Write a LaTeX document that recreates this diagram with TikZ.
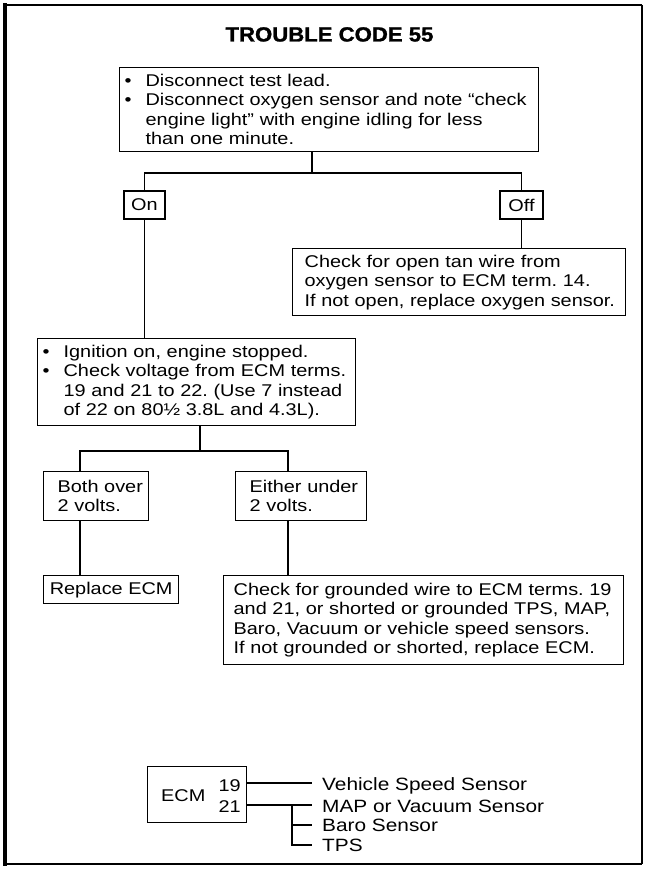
\documentclass[tikz,border=0pt]{standalone}
\usepackage{fontspec}
\setmainfont{Liberation Sans}[FakeStretch=1.17]
\newfontfamily\headfont{Liberation Sans Bold}[FakeStretch=1.08, FakeBold=1.2]
\newcommand\tline[1]{\mbox{#1}}
\newcommand\bul{\makebox[21pt][l]{•}}
\newcommand\ind{\hspace*{21pt}}
\begin{document}
\begin{tikzpicture}[x=1pt,y=-1pt,
  every node/.style={font=\fontsize{17}{19.5}\selectfont\frenchspacing},
  wire/.style={line width=1.3pt},
  box/.style={draw, line width=1.3pt, anchor=north west, align=left, inner ysep=0pt},
  lbl/.style={anchor=base west, inner sep=0pt},
  sensor/.style={lbl, font=\fontsize{17.8}{20}\selectfont}]
\useasboundingbox (0,0) rectangle (650,869);

% outer frame
\draw[line width=2.5pt] (5,5) -- (642,5);
\draw[line width=1.2pt] (642,5) -- (642,864);
\draw[line width=2.8pt] (5,864) -- (642,864);
\draw[line width=4pt] (5,3.5) -- (5,865.5);

% heading
\node[font=\headfont\fontsize{20.5}{24}\selectfont, anchor=base] (title) at (329.5,41.5) {TROUBLE CODE 55};

% first test
\node[box, minimum width=419pt, minimum height=84pt, text width=409pt, inner xsep=5pt] (n1) at (119,67)
 {\tline{\bul Disconnect test lead.}\\
  \tline{\bul Disconnect oxygen sensor and note “check}\\
  \tline{\ind engine light” with engine idling for less}\\
  \tline{\ind than one minute.}};

\node[box, anchor=center, minimum width=41pt, minimum height=28pt, inner xsep=0pt] (on) at (144.5,205) {On};
\node[box, anchor=center, minimum width=43pt, minimum height=28pt, inner xsep=0pt] (off) at (521.5,205) {Off};

\node[box, minimum width=333pt, minimum height=67pt, text width=309pt, inner xsep=12pt] (n3) at (292,248)
 {\tline{Check for open tan wire from}\\
  \tline{oxygen sensor to ECM term. 14.}\\
  \tline{If not open, replace oxygen sensor.}};

\node[box, minimum width=318pt, minimum height=87pt, text width=308pt, inner xsep=5pt] (n2) at (37,338)
 {\tline{\bul Ignition on, engine stopped.}\\
  \tline{\bul Check voltage from ECM terms.}\\
  \tline{\ind 19 and 21 to 22. (Use 7 instead}\\
  \tline{\ind of 22 on 80½ 3.8L and 4.3L).}};

\node[box, minimum width=105pt, minimum height=49pt, text width=77pt, inner xsep=14pt] (n4) at (43,471)
 {\tline{Both over}\\\tline{2 volts.}};
\node[box, minimum width=131pt, minimum height=49pt, text width=103pt, inner xsep=14pt] (n5) at (235,471)
 {\tline{Either under}\\\tline{2 volts.}};

\node[box, minimum width=135pt, minimum height=28pt, inner xsep=0pt, align=center] (n6) at (43,575)
 {Replace ECM};
\node[box, minimum width=400pt, minimum height=89pt, text width=380pt, inner xsep=10pt] (n7) at (223,575)
 {\tline{Check for grounded wire to ECM terms. 19}\\
  \tline{and 21, or shorted or grounded TPS, MAP,}\\
  \tline{Baro, Vacuum or vehicle speed sensors.}\\
  \tline{If not grounded or shorted, replace ECM.}};

% connectors
\coordinate (j1) at (312,173);
\draw[wire] (n1.south -| j1) -- (j1);
\draw[wire] (on.north) -- (on.north |- j1) -- (off.north |- j1) -- (off.north);
\draw[wire] (on.south) -- (on.south |- n2.north);
\draw[wire] (off.south) -- (off.south |- n3.north);

\coordinate (j2) at (200,451);
\coordinate (jl) at (80,451);
\coordinate (jr) at (288,451);
\draw[wire] (n2.south -| j2) -- (j2);
\draw[wire] (jl |- n4.north) -- (jl) -- (jr) -- (jr |- n5.north);
\draw[wire] (jl |- n4.south) -- (jl |- n6.north);
\draw[wire] (jr |- n5.south) -- (jr |- n7.north);

% ECM terminal sketch
\node[box, minimum width=99pt, minimum height=56pt] (ecm) at (147,766) {};
\node[lbl] (ecmt) at (161,801) {ECM};
\node[lbl, anchor=base east] (t19) at (241,791) {19};
\node[lbl, anchor=base east] (t21) at (241,812) {21};

\coordinate (e19) at (312,783);
\coordinate (e21) at (312,805);
\coordinate (eb) at (312,825);
\coordinate (et) at (312,845);
\coordinate (br) at (292,805);
\draw[wire] (ecm.east |- e19) -- (e19);
\draw[wire] (ecm.east |- e21) -- (e21);
\draw[wire] (br) |- (eb);
\draw[wire] (br) |- (et);

\node[sensor] (vss) at (322,790) {Vehicle Speed Sensor};
\node[sensor] (map) at (322,812) {MAP or Vacuum Sensor};
\node[sensor] (baro) at (322,831) {Baro Sensor};
\node[sensor] (tps) at (322,851) {TPS};
\end{tikzpicture}
\end{document}
